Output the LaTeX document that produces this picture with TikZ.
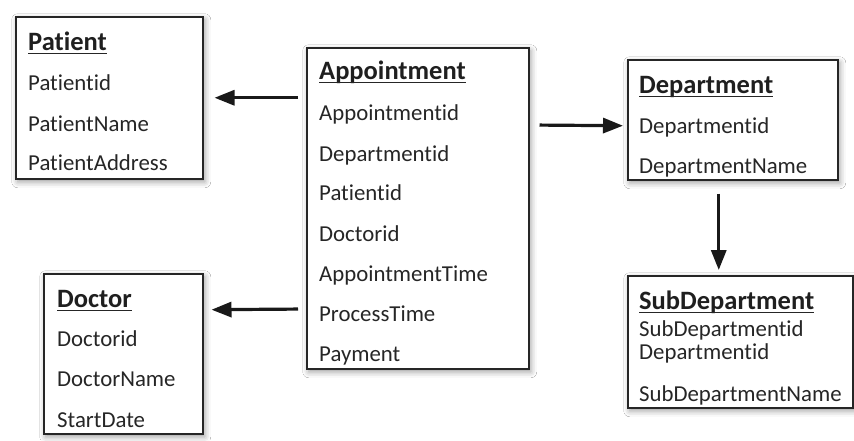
\documentclass[tikz,border=0pt]{standalone}
\usepackage{fontspec}
\setmainfont[RawFeature=-liga]{Carlito}
\usetikzlibrary{arrows.meta,shadows.blur}
\begin{document}
\begin{tikzpicture}[x=1pt,y=-1pt,
  entity/.style={draw=black!85,line width=1.5pt,fill=white,anchor=north west,inner sep=0pt,
    blur shadow={shadow xshift=2pt,shadow yshift=-3pt,shadow blur radius=6pt,shadow opacity=40}},
  ttl/.style={anchor=base west,inner sep=0pt,font=\fontsize{26.5}{30}\selectfont\bfseries,text=black!88},
  fld/.style={anchor=base west,inner sep=0pt,font=\fontsize{22.8}{26}\selectfont,text=black!85},
  uline/.style={line width=1.8pt,draw=black!85},
  rel/.style={line width=3.2pt,draw=black!90,-{Triangle[length=20pt,width=15pt]}}]
\useasboundingbox[fill=white] (0,0) rectangle (854,440);

% entity boxes
\node[entity,minimum width=187pt,minimum height=162pt] (pat) at (15,16) {};
\node[entity,minimum width=222pt,minimum height=321pt] (appt) at (306,47) {};
\node[entity,minimum width=210pt,minimum height=120pt] (dept) at (627,59) {};
\node[entity,minimum width=225pt,minimum height=132pt] (sub) at (627,275) {};
\node[entity,minimum width=159pt,minimum height=160pt] (doc) at (43,273) {};

% Patient
\node[ttl] (ptitle) at (28,50) {Patient};
\node[fld] (p1) at (28,90) {Patientid};
\node[fld] (p2) at (28,131) {PatientName};
\node[fld] (p3) at (28,170) {PatientAddress};

% Appointment
\node[ttl] (atitle) at (319,79) {Appointment};
\node[fld] (a1) at (319,120) {Appointmentid};
\node[fld] (a2) at (319,161) {Departmentid};
\node[fld] (a3) at (319,200) {Patientid};
\node[fld] (a4) at (319,241) {Doctorid};
\node[fld] (a5) at (319,281) {AppointmentTime};
\node[fld] (a6) at (319,321) {ProcessTime};
\node[fld] (a7) at (319,361) {Payment};

% Department
\node[ttl] (dtitle) at (639,93) {Department};
\node[fld] (d1) at (639,133) {Departmentid};
\node[fld] (d2) at (639,173) {DepartmentName};

% SubDepartment
\node[ttl] (stitle) at (639,309) {SubDepartment};
\node[fld] (s1) at (639,336) {SubDepartmentid};
\node[fld] (s2) at (639,359) {Departmentid};
\node[fld] (s3) at (639,401) {SubDepartmentName};

% Doctor
\node[ttl] (ctitle) at (57,307) {Doctor};
\node[fld] (c1) at (57,346) {Doctorid};
\node[fld] (c2) at (57,386) {DoctorName};
\node[fld] (c3) at (57,427) {StartDate};

% title underlines
\foreach \t in {ptitle,atitle,dtitle,stitle,ctitle}
  \draw[uline] ([yshift=-3.5pt]\t.base west) -- ([yshift=-3.5pt]\t.base east);

% relationships
\draw[rel,shorten <=8pt,shorten >=11pt] (appt.west |- pat.east) -- (pat.east);
\draw[rel,shorten <=8pt,shorten >=8pt] (appt.west |- 0,309) -- ([yshift=44pt]doc.east);
\draw[rel,shorten <=10pt,shorten >=4pt] (appt.east |- 0,125) -- ([yshift=-6pt]dept.west);
\draw[rel,shorten <=13pt,shorten >=5pt] ([xshift=-14pt]dept.south) -- ([xshift=-14pt]dept.south |- sub.north);
\end{tikzpicture}
\end{document}
